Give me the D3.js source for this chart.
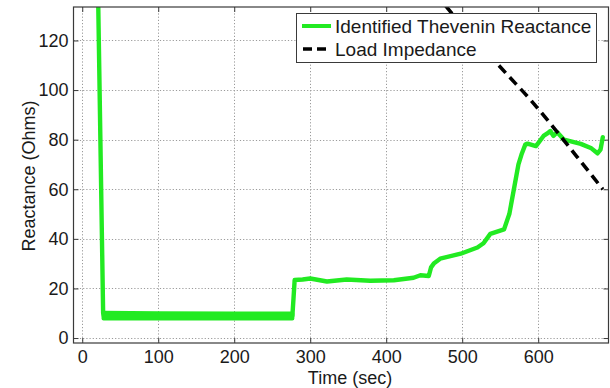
<!DOCTYPE html>
<html>
<head>
<meta charset="utf-8">
<script src="https://cdn.jsdelivr.net/npm/d3@7"></script>
<style>
  html, body { margin: 0; padding: 0; background: #fff; }
  svg { display: block; font-family: "Liberation Sans", Arial, Helvetica, sans-serif; }
</style>
</head>
<body>
<svg id="chart" width="610" height="388"></svg>
<script>
// Identified Thevenin reactance over time (sec, ohms)
const theveninTime = [20, 27.5, 29, 40, 100, 150, 200, 250, 276.5, 278, 279.5, 290, 300, 322, 348, 379, 410, 436, 445, 456, 459, 463, 471, 498, 520, 528, 537, 555, 562, 568, 574, 578, 583, 586, 597, 601, 607, 612, 616, 620, 625, 634, 656, 670, 678, 682, 685];
const theveninX    = [155, 10, 8.4, 8.9, 8.8, 8.9, 8.8, 8.9, 8.9, 16, 23.4, 23.6, 24, 22.8, 23.6, 23.1, 23.3, 24.3, 25.3, 25, 28.5, 30.2, 32, 34, 36.5, 38.2, 42, 43.8, 50, 60, 70, 74, 78, 78.4, 77.4, 79, 81.5, 82.5, 83.5, 81.5, 83, 80, 78.3, 76.5, 74.5, 76, 81];

// Noise envelope of the estimate while it sits on the low plateau
const plateauTime = [28, 100, 200, 276.5];
const plateauLow  = [7.9, 7.9, 7.9, 7.9];
const plateauHigh = [10.2, 10.0, 9.9, 9.9];

// Load impedance curve (sec, ohms)
const loadTime = [465, 500, 530, 560, 590, 620, 650, 685];
const loadZ    = [139, 126, 116, 106, 96, 85, 73.5, 60];

// Axis ticks
const xTicks = [0, 100, 200, 300, 400, 500, 600];
const yTicks = [0, 20, 40, 60, 80, 100, 120];

const seriesNames = ["Identified Thevenin Reactance", "Load Impedance"];

const svg = d3.select("#chart");
const L = 73.5, R = 608.5, T = 7, B = 343;

const x = d3.scaleLinear().domain([-11.5, 692.5]).range([L, R]);
const y = d3.scaleLinear().domain([-2, 133.5]).range([B, T]);

const green = "#22ea22";
const frame = "#3a3a3a";

svg.append("defs").append("clipPath").attr("id", "plot-clip")
  .append("rect").attr("x", L).attr("y", T).attr("width", R - L).attr("height", B - T);

// Dotted grid
const grid = svg.append("g").attr("stroke", "#9a9a9a").attr("stroke-width", 1)
  .attr("stroke-dasharray", "1.2,2");
grid.selectAll("line.gx").data(xTicks).join("line").attr("class", "gx")
  .attr("x1", d => Math.round(x(d)) + 0.5).attr("x2", d => Math.round(x(d)) + 0.5)
  .attr("y1", T).attr("y2", B);
grid.selectAll("line.gy").data(yTicks).join("line").attr("class", "gy")
  .attr("y1", d => Math.round(y(d)) + 0.5).attr("y2", d => Math.round(y(d)) + 0.5)
  .attr("x1", L).attr("x2", R);

// Axes with inward ticks, labels via d3 axis generators
const tickLen = 5;
const axisFont = 18;

const xAxis = svg.append("g").attr("transform", `translate(0,${B})`)
  .call(d3.axisBottom(x).tickValues(xTicks).tickFormat(d3.format("d")).tickSize(-tickLen).tickPadding(7));
const yAxis = svg.append("g").attr("transform", `translate(${L},0)`)
  .call(d3.axisLeft(y).tickValues(yTicks).tickFormat(d3.format("d")).tickSize(-tickLen).tickPadding(5));
const xAxisTop = svg.append("g").attr("transform", `translate(0,${T})`)
  .call(d3.axisTop(x).tickValues(xTicks).tickFormat("").tickSize(-tickLen));
const yAxisRight = svg.append("g").attr("transform", `translate(${R},0)`)
  .call(d3.axisRight(y).tickValues(yTicks).tickFormat("").tickSize(-tickLen));

[xAxis, yAxis, xAxisTop, yAxisRight].forEach(g => {
  g.select(".domain").remove();
  g.selectAll(".tick line").attr("stroke", frame);
  g.selectAll(".tick text").attr("fill", "#1a1a1a").style("font-size", axisFont + "px")
    .style("font-family", "'Liberation Sans', Arial, sans-serif");
});

// Data lines
const plot = svg.append("g").attr("clip-path", "url(#plot-clip)");

const band = d3.area()
  .x((d, i) => x(plateauTime[i]))
  .y0((d, i) => y(plateauLow[i]))
  .y1((d, i) => y(plateauHigh[i]));
plot.append("path").datum(plateauTime).attr("d", band)
  .attr("fill", green).attr("stroke", green).attr("stroke-width", 4).attr("stroke-linejoin", "round");

const line = d3.line();
plot.append("path")
  .datum(theveninTime.map((t, i) => [x(t), y(theveninX[i])]))
  .attr("d", line).attr("fill", "none").attr("stroke", green)
  .attr("stroke-width", 4.4).attr("stroke-linejoin", "round").attr("stroke-linecap", "round");

plot.append("path")
  .datum(loadTime.map((t, i) => [x(t), y(loadZ[i])]))
  .attr("d", d3.line().curve(d3.curveMonotoneX)).attr("fill", "none").attr("stroke", "#000")
  .attr("stroke-width", 3.6).attr("stroke-dasharray", "10,6");

// Box
svg.append("rect").attr("x", L).attr("y", T).attr("width", R - L).attr("height", B - T)
  .attr("fill", "none").attr("stroke", frame).attr("stroke-width", 1.2);

// Axis titles
svg.append("text").attr("x", (L + R) / 2 + 9).attr("y", 384)
  .attr("text-anchor", "middle").attr("fill", "#1a1a1a").style("font-size", axisFont + "px")
  .text("Time (sec)");
svg.append("text").attr("transform", `translate(35,${(T + B) / 2 + 1}) rotate(-90)`)
  .attr("text-anchor", "middle").attr("fill", "#1a1a1a").style("font-size", axisFont + "px")
  .text("Reactance (Ohms)");

// Legend
const lg = svg.append("g");
lg.append("rect").attr("x", 296.5).attr("y", 13.5).attr("width", 300).attr("height", 49)
  .attr("fill", "#fff").attr("stroke", frame).attr("stroke-width", 1);
const rowsY = [26, 49];
lg.append("line").attr("x1", 302).attr("x2", 331).attr("y1", rowsY[0]).attr("y2", rowsY[0])
  .attr("stroke", green).attr("stroke-width", 4);
lg.append("line").attr("x1", 303).attr("x2", 331).attr("y1", rowsY[1]).attr("y2", rowsY[1])
  .attr("stroke", "#000").attr("stroke-width", 3.6).attr("stroke-dasharray", "9,5");
lg.selectAll("text").data(seriesNames).join("text")
  .attr("x", 335).attr("y", (d, i) => rowsY[i]).attr("dy", "0.35em")
  .attr("fill", "#1a1a1a").style("font-size", "19px").text(d => d);
</script>
</body>
</html>
